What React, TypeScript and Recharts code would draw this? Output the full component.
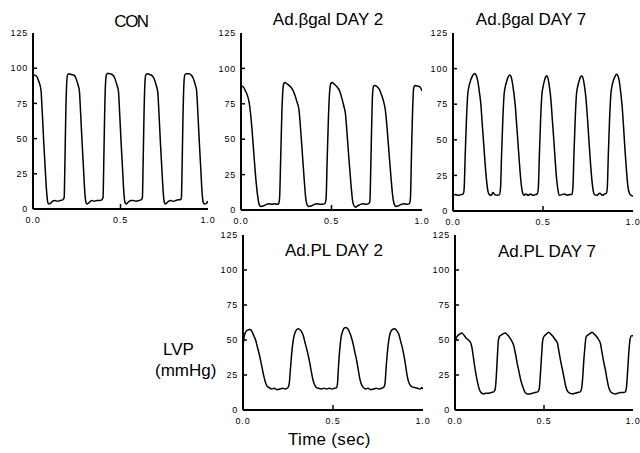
import React from 'react';
import { LineChart, Line, XAxis, YAxis } from 'recharts';

type Pt = [number, number];

// time (sec) , LVP (mmHg)
const conTrace: Pt[] = [[0,95],[0.010,95],[0.022,94],[0.032,91],[0.040,88],[0.046,84],[0.054,66],[0.062,46],[0.070,28],[0.078,12],[0.084,5],[0.090,3.5],[0.100,4],[0.112,5.5],[0.125,6],[0.140,5.5],[0.155,6],[0.170,6.5],[0.178,8],[0.182,30],[0.187,65],[0.192,88],[0.197,95],[0.205,96],[0.220,95.5],[0.235,95],[0.245,93],[0.253,90],[0.260,87],[0.265,84],[0.273,66],[0.281,46],[0.289,28],[0.296,12],[0.302,5],[0.308,3.5],[0.320,4.5],[0.335,6],[0.350,5.5],[0.365,6],[0.380,6],[0.393,6.5],[0.400,8],[0.404,30],[0.409,65],[0.414,88],[0.419,95],[0.427,96.5],[0.442,96],[0.457,95],[0.467,93],[0.475,90],[0.482,87],[0.488,84],[0.496,66],[0.504,46],[0.512,28],[0.519,12],[0.525,5],[0.531,3.5],[0.545,5],[0.560,6],[0.575,6],[0.590,5.5],[0.605,6],[0.618,6.5],[0.625,8],[0.629,30],[0.634,65],[0.639,88],[0.644,95],[0.652,96],[0.667,95.5],[0.682,94.5],[0.692,92.5],[0.700,89.5],[0.707,86.5],[0.713,83],[0.721,65],[0.729,45],[0.737,27],[0.744,12],[0.750,5],[0.756,3.5],[0.770,5],[0.785,6],[0.800,5.5],[0.815,6],[0.830,6.5],[0.842,6.5],[0.848,8],[0.852,30],[0.857,65],[0.862,88],[0.867,95],[0.875,96],[0.890,96],[0.905,95],[0.915,93],[0.923,90],[0.930,87],[0.935,84],[0.943,66],[0.951,46],[0.959,28],[0.966,12],[0.972,5],[0.978,3.5],[0.990,4],[1.0,5.5]];

const bgalDay2Trace: Pt[] = [[0,87.5],[0.012,87],[0.025,84],[0.035,81],[0.045,76],[0.053,68],[0.062,55],[0.072,38],[0.082,22],[0.092,10],[0.100,4],[0.110,2.5],[0.125,3],[0.140,4],[0.155,4.5],[0.170,4],[0.185,4.5],[0.200,4],[0.208,4.5],[0.213,8],[0.219,35],[0.225,65],[0.231,84],[0.237,89.5],[0.243,90],[0.255,89],[0.270,87.5],[0.285,85],[0.298,81],[0.310,76],[0.320,71],[0.330,56],[0.340,38],[0.350,20],[0.358,8],[0.366,3.5],[0.375,2.5],[0.390,3],[0.405,4],[0.420,4.5],[0.435,4],[0.450,4],[0.463,4.5],[0.470,8],[0.476,35],[0.483,65],[0.490,84],[0.497,89.5],[0.503,90],[0.515,89],[0.530,87],[0.545,84],[0.557,79],[0.567,74],[0.577,68],[0.587,52],[0.597,35],[0.607,19],[0.616,7],[0.624,3],[0.632,2],[0.645,3],[0.660,4],[0.675,4.5],[0.690,4],[0.705,4.5],[0.712,6],[0.717,30],[0.722,60],[0.727,82],[0.733,87.5],[0.740,88],[0.752,87],[0.765,85],[0.777,81],[0.787,77],[0.797,71],[0.807,58],[0.818,40],[0.828,24],[0.838,10],[0.847,4],[0.857,2.5],[0.870,3],[0.885,4],[0.900,4.5],[0.915,4],[0.930,4.5],[0.936,8],[0.942,40],[0.948,70],[0.954,86],[0.960,88],[0.975,87.5],[0.988,87],[1.0,84]];

const bgalDay7Trace: Pt[] = [[0,11],[0.015,11.5],[0.030,11],[0.045,11.5],[0.057,12],[0.062,16],[0.068,40],[0.075,65],[0.082,82],[0.088,87],[0.096,91],[0.105,94],[0.114,96],[0.122,96.5],[0.130,95],[0.138,91],[0.146,84],[0.154,76],[0.162,62],[0.170,48],[0.178,34],[0.186,22],[0.194,14],[0.202,11.5],[0.212,11],[0.222,13],[0.232,11.5],[0.245,11],[0.258,11.5],[0.264,16],[0.270,40],[0.277,65],[0.284,82],[0.290,87],[0.298,91],[0.306,94],[0.314,95.5],[0.322,94.5],[0.330,90],[0.338,83],[0.346,74],[0.354,60],[0.362,46],[0.370,32],[0.378,20],[0.386,13],[0.394,11],[0.405,12],[0.418,11],[0.430,12],[0.445,11],[0.458,11.5],[0.468,12],[0.474,16],[0.480,40],[0.487,65],[0.494,82],[0.500,87],[0.507,91],[0.514,94],[0.521,95],[0.528,93],[0.536,87],[0.544,78],[0.552,64],[0.560,50],[0.568,35],[0.576,22],[0.584,14],[0.592,11],[0.605,11.5],[0.620,12],[0.635,11],[0.648,11.5],[0.660,11.5],[0.666,16],[0.672,40],[0.679,65],[0.686,82],[0.692,87],[0.700,91],[0.708,94],[0.715,95],[0.722,93.5],[0.730,88],[0.738,80],[0.746,67],[0.754,52],[0.762,37],[0.770,24],[0.778,15],[0.786,11.5],[0.800,11],[0.815,12.5],[0.830,11],[0.843,12],[0.852,12.5],[0.857,16],[0.863,40],[0.870,65],[0.877,82],[0.884,88],[0.892,92],[0.900,94.5],[0.909,96],[0.916,95],[0.924,91],[0.932,83],[0.940,73],[0.948,58],[0.956,42],[0.964,28],[0.972,17],[0.980,12.5],[0.990,11],[1.0,10.5]];

const plDay2Trace: Pt[] = [[0,45],[0.006,52],[0.014,55.5],[0.025,57],[0.040,57.5],[0.050,56],[0.060,53],[0.070,50],[0.080,45],[0.090,40],[0.100,34],[0.108,29],[0.116,24],[0.124,20],[0.134,17],[0.146,16],[0.160,15],[0.175,15.5],[0.190,14.5],[0.205,15],[0.220,15.5],[0.235,15],[0.250,16],[0.257,19],[0.264,30],[0.271,41],[0.278,49],[0.286,54],[0.296,57],[0.306,58],[0.315,57.5],[0.325,56],[0.335,53],[0.345,48],[0.355,43],[0.364,38],[0.372,33],[0.380,27],[0.388,22],[0.396,18.5],[0.408,16],[0.420,15.5],[0.435,15],[0.450,15.5],[0.465,15],[0.480,15.5],[0.495,15],[0.508,15.5],[0.520,16],[0.525,19],[0.531,32],[0.538,44],[0.545,52],[0.553,56],[0.562,58.5],[0.572,59],[0.582,58],[0.592,55.5],[0.602,52],[0.612,47],[0.622,41],[0.632,35],[0.640,29],[0.648,23],[0.656,19],[0.666,16.5],[0.680,15],[0.695,15.5],[0.710,14.5],[0.725,15],[0.740,15.5],[0.755,15],[0.770,15.5],[0.783,16.5],[0.789,19],[0.795,30],[0.802,41],[0.810,50],[0.818,55],[0.830,57.5],[0.843,58],[0.855,56.5],[0.866,54],[0.876,49],[0.886,44],[0.894,39],[0.902,33],[0.910,26],[0.918,21],[0.928,18],[0.940,16.5],[0.955,16],[0.970,15.5],[0.985,15],[0.993,16],[1.0,15]];

const plDay7Trace: Pt[] = [[0,48],[0.006,51],[0.015,53],[0.025,54],[0.038,55],[0.050,53.5],[0.062,51.5],[0.075,50],[0.088,48],[0.096,44],[0.104,37],[0.112,30],[0.120,24],[0.128,19],[0.136,15],[0.146,12.5],[0.160,11.5],[0.175,12],[0.190,12],[0.205,12.5],[0.218,13],[0.226,15],[0.232,24],[0.238,38],[0.244,50],[0.250,52.5],[0.260,53.5],[0.272,54.5],[0.284,55],[0.296,53.5],[0.308,51.5],[0.320,49],[0.330,46],[0.340,40],[0.350,33],[0.360,27],[0.370,21],[0.380,17],[0.392,13],[0.405,11.5],[0.420,11.5],[0.435,12],[0.450,12.5],[0.465,13],[0.473,15],[0.479,24],[0.486,38],[0.493,50],[0.500,52.5],[0.512,54],[0.526,55.5],[0.540,54],[0.554,52],[0.565,50],[0.575,48],[0.585,41],[0.595,34],[0.605,28],[0.614,22],[0.622,17],[0.632,13.5],[0.645,12],[0.660,11.5],[0.675,12],[0.690,12.5],[0.704,13],[0.712,16],[0.718,24],[0.724,36],[0.730,45],[0.736,52],[0.746,53.5],[0.758,54.5],[0.770,55.5],[0.784,54],[0.798,52],[0.808,50],[0.816,48],[0.826,41],[0.836,34],[0.846,28],[0.854,22],[0.862,17],[0.872,13.5],[0.885,12],[0.900,11.5],[0.915,12],[0.930,12.5],[0.945,12.5],[0.957,13],[0.963,16],[0.970,28],[0.977,42],[0.984,51],[0.992,53],[1.0,53]];

const yTicks = [0, 25, 50, 75, 100, 125];
const xTicks = [0, 0.5, 1];
const xTickLabels = ['0.0', '0.5', '1.0'];

const FONT = '"Liberation Sans", Arial, Helvetica, sans-serif';

type PanelCfg = {
  key: string;
  data: Pt[];
  left: number; top: number; width: number; height: number;
  margin: { top: number; right: number; bottom: number; left: number };
};

const YAXIS_W = 30;
const XAXIS_H = 20;

const panels: PanelCfg[] = [
  { key: 'con', data: conTrace, left: 0, top: 0, width: 220, height: 232, margin: { top: 33, right: 12, bottom: 3, left: 3 } },
  { key: 'b2', data: bgalDay2Trace, left: 210, top: 0, width: 220, height: 232, margin: { top: 33, right: 8, bottom: 2, left: 1 } },
  { key: 'b7', data: bgalDay7Trace, left: 422, top: 0, width: 218, height: 232, margin: { top: 33, right: 7, bottom: 1, left: 1 } },
  { key: 'p2', data: plDay2Trace, left: 212, top: 222, width: 220, height: 210, margin: { top: 13, right: 9, bottom: 2, left: 1 } },
  { key: 'p7', data: plDay7Trace, left: 424, top: 222, width: 216, height: 210, margin: { top: 13, right: 7, bottom: 2, left: 1 } },
];

function Panel({ cfg }: { cfg: PanelCfg }) {
  const rows = cfg.data.map(([t, p]) => ({ t, p }));
  const axisX = cfg.margin.left + YAXIS_W;
  const axisY = cfg.height - cfg.margin.bottom - XAXIS_H;
  const YTick = (props: any) => {
    const { y, payload } = props;
    const v = payload.value;
    return (
      <g>
        <text x={axisX - 5} y={y} dy={3.2} textAnchor="end" fontSize={9} letterSpacing={0.8} fill="#000" fontFamily={FONT}>{v}</text>
        {v > 0 && v < 125 ? <line x1={axisX} x2={axisX + 4} y1={y} y2={y} stroke="#000" strokeWidth={1.5} /> : null}
      </g>
    );
  };
  const XTick = (props: any) => {
    const { x, payload } = props;
    const v = payload.value;
    const idx = xTicks.indexOf(v);
    return (
      <g>
        <text x={x} y={axisY + 13.5} textAnchor="middle" fontSize={9} letterSpacing={0.8} fill="#000" fontFamily={FONT}>{xTickLabels[idx]}</text>
        {v === 0.5 ? <line x1={x} x2={x} y1={axisY} y2={axisY - 5} stroke="#000" strokeWidth={1.5} /> : null}
      </g>
    );
  };
  return (
    <div style={{ position: 'absolute', left: cfg.left, top: cfg.top, width: cfg.width, height: cfg.height }}>
      <LineChart width={cfg.width} height={cfg.height} data={rows} margin={cfg.margin}>
        <XAxis dataKey="t" type="number" domain={[0, 1]} ticks={xTicks} height={XAXIS_H}
          axisLine={{ stroke: '#000', strokeWidth: 2 }} tickLine={false} tickSize={0} tick={XTick} allowDataOverflow />
        <YAxis type="number" domain={[0, 125]} ticks={yTicks} width={YAXIS_W}
          axisLine={{ stroke: '#000', strokeWidth: 2 }} tickLine={false} tickSize={0} tick={YTick} allowDataOverflow />
        <Line type="monotone" dataKey="p" stroke="#000" strokeWidth={1.5} dot={false} activeDot={false} isAnimationActive={false} />
      </LineChart>
    </div>
  );
}

export default function App() {
  return (
    <div style={{ position: 'absolute', left: 0, top: 0, width: 640, height: 453, background: '#fff', overflow: 'hidden' }}>
      {panels.map((p) => <Panel key={p.key} cfg={p} />)}
      <svg width={640} height={453} style={{ position: 'absolute', left: 0, top: 0, pointerEvents: 'none' }}>
        <g fontFamily={FONT} fill="#000" fontSize={17}>
          <text x={131} y={27} textAnchor="middle" letterSpacing={-1.5}>CON</text>
          <text x={328} y={25} textAnchor="middle">Ad.βgal DAY 2</text>
          <text x={531} y={25} textAnchor="middle">Ad.βgal DAY 7</text>
          <text x={334} y={256} textAnchor="middle">Ad.PL DAY 2</text>
          <text x={547} y={257} textAnchor="middle">Ad.PL DAY 7</text>
          <text x={163} y={355}>LVP</text>
          <text x={155} y={376}>(mmHg)</text>
          <text x={288} y={445} letterSpacing={0.3}>Time (sec)</text>
        </g>
      </svg>
    </div>
  );
}
